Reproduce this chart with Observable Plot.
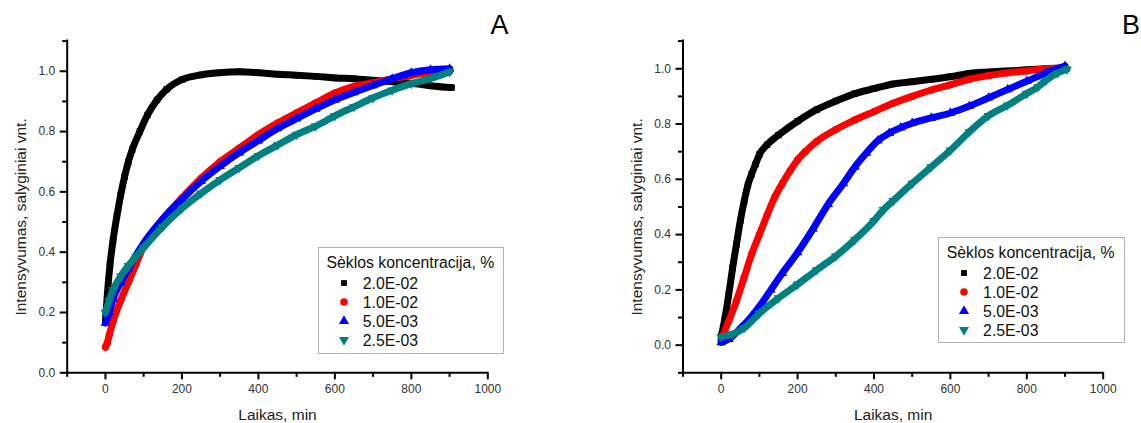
<!DOCTYPE html>
<html>
<head>
<meta charset="utf-8">
<script src="https://cdn.jsdelivr.net/npm/d3@7"></script>
<script src="https://cdn.jsdelivr.net/npm/@observablehq/plot@0.6"></script>
<style>
  body { margin: 0; background: #fff; }
  #page { position: relative; width: 1141px; height: 423px; overflow: hidden; background: #fff;
          font-family: "Liberation Sans", Arial, sans-serif; }
  .panel { position: absolute; top: 0; }
  .legend { position: absolute; box-sizing: border-box; border: 1px solid #b4b4b4; background: #fff;
            font-family: "Liberation Sans", Arial, sans-serif; color: #111; }
  .legend .title { position: absolute; font-size: 15.8px; white-space: nowrap; line-height: 1; }
  .legend .row { position: absolute; font-size: 15.8px; white-space: nowrap; line-height: 1; }
  .legend svg { position: absolute; overflow: visible; }
</style>
</head>
<body>
<div id="page">
  <div id="panelA" class="panel" style="left:0px"></div>
  <div id="panelB" class="panel" style="left:570px"></div>
</div>
<script>
// ---------- data ----------
const seriesLabels = ["2.0E-02", "1.0E-02", "5.0E-03", "2.5E-03"];
const seriesColors = ["#000000", "#ff0000", "#0000ff", "#008080"];
const legendTitle = "Sèklos koncentracija, %";
const xLabel = "Laikas, min";
const yLabel = "Intensyvumas, salyginiai vnt.";

const xMajor = [0, 200, 400, 600, 800, 1000];
const xMinor = [-100, 100, 300, 500, 700, 900];
const yMajor = [0, 0.2, 0.4, 0.6, 0.8, 1.0];
const yMinorA = [0.1, 0.3, 0.5, 0.7, 0.9, 1.1];
const yMinorB = [-0.1, 0.1, 0.3, 0.5, 0.7, 0.9, 1.1];

// Panel A  [time (min), intensity]
const A_black = [[0,0.17],[5,0.26],[12,0.36],[20,0.44],[30,0.52],[40,0.59],[50,0.65],[60,0.70],[70,0.74],[90,0.80],[110,0.855],[135,0.905],[160,0.94],[200,0.972],[250,0.988],[300,0.995],[350,0.998],[400,0.995],[450,0.99],[500,0.987],[550,0.983],[600,0.978],[650,0.975],[700,0.97],[750,0.965],[800,0.96],[850,0.952],[880,0.948],[905,0.946]];
const A_red = [[0,0.085],[5,0.10],[10,0.125],[20,0.17],[40,0.24],[60,0.30],[80,0.36],[100,0.42],[150,0.51],[200,0.58],[250,0.645],[300,0.70],[350,0.745],[400,0.79],[450,0.828],[500,0.862],[550,0.895],[600,0.928],[650,0.95],[700,0.962],[750,0.975],[800,0.987],[850,0.996],[900,1.0]];
const A_blue = [[0,0.165],[10,0.2],[20,0.245],[40,0.30],[60,0.345],[80,0.39],[100,0.43],[150,0.51],[200,0.575],[250,0.635],[300,0.685],[350,0.73],[400,0.77],[450,0.81],[500,0.843],[550,0.875],[600,0.905],[650,0.93],[700,0.953],[750,0.975],[800,0.995],[850,1.005],[900,1.008]];
const A_teal = [[0,0.2],[10,0.24],[20,0.275],[40,0.32],[60,0.355],[80,0.385],[100,0.415],[150,0.485],[200,0.545],[250,0.595],[300,0.64],[350,0.68],[400,0.72],[450,0.755],[500,0.79],[550,0.818],[600,0.852],[650,0.882],[700,0.912],[750,0.937],[800,0.959],[850,0.976],[900,0.998]];

// Panel B  [time (min), intensity]
const B_black = [[0,0.03],[10,0.10],[20,0.185],[30,0.28],[40,0.365],[50,0.45],[60,0.52],[70,0.58],[80,0.62],[90,0.655],[100,0.69],[120,0.725],[150,0.76],[200,0.81],[250,0.852],[300,0.883],[350,0.91],[400,0.928],[450,0.945],[500,0.953],[550,0.962],[600,0.971],[650,0.983],[700,0.988],[750,0.992],[800,0.996],[850,1.0],[900,1.003]];
const B_red = [[0,0.02],[20,0.088],[40,0.16],[60,0.245],[80,0.33],[100,0.40],[120,0.47],[140,0.535],[160,0.585],[180,0.63],[200,0.67],[220,0.70],[250,0.737],[300,0.78],[350,0.815],[400,0.845],[450,0.875],[500,0.9],[550,0.923],[600,0.942],[650,0.962],[700,0.975],[750,0.985],[800,0.992],[850,1.0],[900,1.003]];
const B_blue = [[0,0.01],[20,0.022],[50,0.06],[80,0.105],[100,0.14],[130,0.2],[160,0.26],[200,0.335],[240,0.42],[280,0.51],[320,0.585],[350,0.645],[380,0.695],[410,0.74],[440,0.767],[470,0.787],[500,0.803],[550,0.822],[600,0.84],[650,0.865],[700,0.895],[750,0.925],[800,0.955],[850,0.985],[900,1.01]];
const B_teal = [[0,0.03],[30,0.04],[60,0.062],[100,0.115],[150,0.17],[200,0.22],[250,0.272],[300,0.322],[350,0.382],[400,0.45],[425,0.49],[450,0.522],[500,0.585],[550,0.645],[600,0.705],[650,0.772],[700,0.83],[750,0.868],[800,0.91],[830,0.935],[850,0.958],[880,0.984],[905,0.998]];

// ---------- symbols ----------
const triangleDown = {
  draw(context, size) {
    const y = -Math.sqrt(size / (Math.sqrt(3) * 3));
    context.moveTo(0, -y * 2);
    context.lineTo(-Math.sqrt(3) * y, y);
    context.lineTo(Math.sqrt(3) * y, y);
    context.closePath();
  }
};
const plotSymbols = ["square", "circle", "triangle", triangleDown];
const d3Symbols = [d3.symbolSquare, d3.symbolCircle, d3.symbolTriangle, triangleDown];
const legendSizes = [34, 44, 44, 44];

const FONT = "'Liberation Sans', Arial, sans-serif";

function panel(series, yDomain, yMinor, W, mL, mR, letter, letterOpts) {
  const mT = 40.6, mB = 423 - 372.3;
  const marks = [];
  series.forEach((s, i) => {
    marks.push(Plot.line(s, {x: d => d[0], y: d => d[1], stroke: seriesColors[i], strokeWidth: 7,
      strokeLinecap: "round", strokeLinejoin: "round", curve: "monotone-x"}));
    marks.push(Plot.dot(s, {x: d => d[0], y: d => d[1], fill: seriesColors[i], r: 3.6, symbol: () => plotSymbols[i]}));
  });
  marks.push(
    Plot.ruleX([-100], {stroke: "black", strokeWidth: 2, strokeLinecap: "square"}),
    Plot.ruleY([yDomain[0]], {stroke: "black", strokeWidth: 2, strokeLinecap: "square"}),
    Plot.axisX({ticks: xMajor, tickSize: 7, tickPadding: 5, stroke: "black", strokeWidth: 2,
      tickFormat: d => String(d), label: null, fill: "#333", fontSize: 12}),
    Plot.axisX({ticks: xMinor, tickSize: 4.5, stroke: "black", strokeWidth: 2, tickFormat: () => "", label: null}),
    Plot.axisY({ticks: yMajor, tickSize: 7, tickPadding: 5, stroke: "black", strokeWidth: 2,
      tickFormat: d => d.toFixed(1), label: null, fill: "#333", fontSize: 12}),
    Plot.axisY({ticks: yMinor, tickSize: 4.5, stroke: "black", strokeWidth: 2, tickFormat: () => "", label: null}),
    Plot.text([xLabel], {frameAnchor: "bottom", text: d => d, dy: 42.2, lineAnchor: "middle",
      fontSize: 15.5, fill: "#222"}),
    Plot.text([yLabel], {frameAnchor: "left", text: d => d, dx: -45.8, dy: 10, rotate: -90,
      lineAnchor: "middle", textAnchor: "middle", fontSize: 15.5, fill: "#222"}),
    Plot.text([letter], {frameAnchor: "top-right", text: d => d, dx: letterOpts.dx, dy: -15.9,
      textAnchor: letterOpts.anchor, lineAnchor: "middle", fontSize: 27, fill: "#000"})
  );
  return Plot.plot({
    width: W, height: 423,
    marginLeft: mL, marginRight: mR, marginTop: mT, marginBottom: mB,
    x: {domain: [-100, 1000], label: null},
    y: {domain: yDomain, label: null},
    style: {fontFamily: FONT, fontSize: "12px", color: "#333", background: "transparent"},
    marks
  });
}

document.getElementById("panelA").appendChild(
  panel([A_black, A_red, A_blue, A_teal], [0, 1.1], yMinorA, 570, 66.7, 570 - 487.3, "A", {dx: 11.7, anchor: "middle"})
);
document.getElementById("panelB").appendChild(
  panel([B_black, B_red, B_blue, B_teal], [-0.1, 1.1], yMinorB, 571, 112.5, 571 - 1102.7 + 570, "B", {dx: 1139.5 - 1102.7, anchor: "end"})
);

// ---------- legends ----------
function legend(left, top, width, height) {
  const box = document.createElement("div");
  box.className = "legend";
  Object.assign(box.style, {left: left + "px", top: top + "px", width: width + "px", height: height + "px"});
  const t = document.createElement("div");
  t.className = "title";
  t.textContent = legendTitle;
  Object.assign(t.style, {left: "7.5px", top: (21.4 - 14.4) + "px"});
  box.appendChild(t);
  seriesLabels.forEach((lab, i) => {
    const cy = 35.6 + i * 19;
    const svg = d3.create("svg").attr("width", 12).attr("height", 12)
      .style("left", (24.6 - 6) + "px").style("top", (cy - 6) + "px");
    svg.append("path").attr("transform", "translate(6,6)")
      .attr("d", d3.symbol(d3Symbols[i], legendSizes[i])()).attr("fill", seriesColors[i]);
    box.appendChild(svg.node());
    const r = document.createElement("div");
    r.className = "row";
    r.textContent = lab;
    Object.assign(r.style, {left: "43.8px", top: (cy - 7.5) + "px"});
    box.appendChild(r);
  });
  document.getElementById("page").appendChild(box);
}
legend(318, 246.7, 185.5, 107.6);
legend(938.3, 236.7, 186.5, 106.5);
</script>
</body>
</html>
